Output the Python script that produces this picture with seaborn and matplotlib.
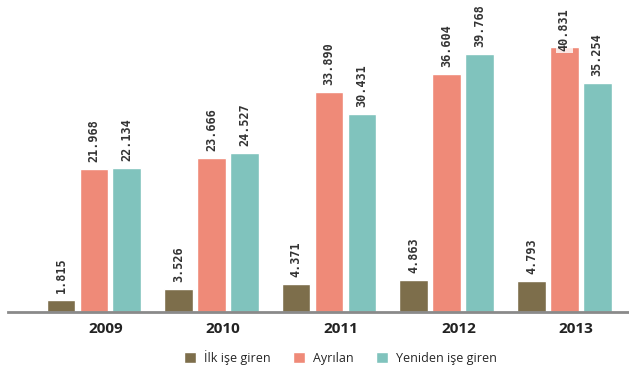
import numpy as np
import pandas as pd
import matplotlib.pyplot as plt
import seaborn as sns

# ------------------ DATA ------------------
years = ["2009", "2010", "2011", "2012", "2013"]
series = ["İlk işe giren", "Ayrılan", "Yeniden işe giren"]
ilk = [1.815, 3.526, 4.371, 4.863, 4.793]
ayrilan = [21.968, 23.666, 33.890, 36.604, 40.831]
yeniden = [22.134, 24.527, 30.431, 39.768, 35.254]

colors = ["#7d6e4b", "#ef8a78", "#80c3bd"]

records = []
for name, vals in zip(series, [ilk, ayrilan, yeniden]):
    for y, v in zip(years, vals):
        records.append({"Yıl": y, "Seri": name, "Değer": v})
df = pd.DataFrame(records)

# ------------------ PLOTTING ------------------
sns.set_style("white")
plt.rcParams["font.family"] = ["Open Sans", "DejaVu Sans"]

fig = plt.figure(figsize=(6.29, 3.74), dpi=100)
ax = fig.add_axes([8 / 629, 62 / 374, 621 / 629, 312 / 374])

sns.barplot(data=df, x="Yıl", y="Değer", hue="Seri", hue_order=series,
            palette=colors, width=0.84, gap=0.13, saturation=1,
            ax=ax, legend=True)

ymax = 48
# value labels (tallest one slides down onto its bar so it stays inside the figure)
for cont in ax.containers:
    for bar in cont:
        h = bar.get_height()
        off = 5 if h < 40 else -3
        ax.annotate(f"{h:.3f}", (bar.get_x() + bar.get_width() / 2, h),
                    xytext=(0, off), textcoords="offset points",
                    rotation=90, ha="center", va="bottom",
                    fontsize=8.5, fontweight="bold", family="DejaVu Sans Mono",
                    color="#333333",
                    bbox=dict(boxstyle="square,pad=0.15", fc="white", ec="none", alpha=0.8),
                    annotation_clip=False)

ax.set_xlim(-0.73, 4.55)
ax.set_ylim(0, ymax)
ax.set_xticks(np.arange(len(years)) + 0.1)
ax.set_xticklabels(years, fontsize=11, fontweight="bold", color="#222222")
ax.tick_params(axis="x", length=0, pad=7)
ax.set_yticks([])
ax.set_xlabel("")
ax.set_ylabel("")
for s in ["top", "left", "right"]:
    ax.spines[s].set_visible(False)
ax.spines["bottom"].set_color("#8a8a8a")
ax.spines["bottom"].set_linewidth(2)

handles, labels = ax.get_legend_handles_labels()
ax.legend(handles, labels, loc="center", bbox_to_anchor=(0.535, -0.145),
          ncol=3, frameon=False, fontsize=9, handlelength=1.0, handleheight=1.0,
          handletextpad=0.6, columnspacing=1.8)

fig.savefig("out.png", dpi=100)
